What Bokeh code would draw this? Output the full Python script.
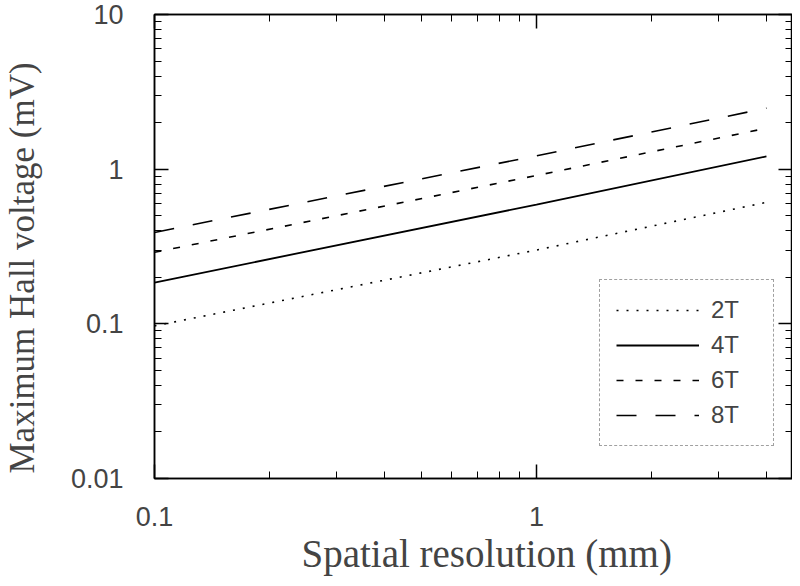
from bokeh.plotting import figure
from bokeh.models import LogAxis, FixedTicker, Legend, LegendItem, Title
from bokeh.embed import file_html
from bokeh.resources import INLINE

# Data (log-log straight lines)
x_res = [0.1, 1.0, 4.0]
v_2T = [0.097, 0.30, 0.61]
v_4T = [0.185, 0.59, 1.21]
v_6T = [0.29, 0.91, 1.84]
v_8T = [0.39, 1.22, 2.48]
series_labels = ["2T", "4T", "6T", "8T"]

x_major = [0.1, 1.0]
x_minor = [0.2, 0.3, 0.4, 0.5, 0.6, 0.7, 0.8, 0.9, 2.0, 3.0, 4.0]
y_major = [0.01, 0.1, 1.0, 10.0]
y_minor = [m * d for d in (0.01, 0.1, 1.0) for m in range(2, 10)]

p = figure(width=792, height=578, x_axis_type="log", y_axis_type="log",
           x_range=(0.1, 4.68), y_range=(0.01, 10),
           output_backend="svg", toolbar_location=None,
           min_border_left=154, min_border_right=0, min_border_top=14, min_border_bottom=100)
p.grid.visible = False
p.outline_line_color = "black"
p.outline_line_width = 1.5
p.background_fill_color = "white"
p.border_fill_color = "white"

styles = [("2 8", 1.6), (None, 1.8), ("7 12", 1.6), ("20 19", 1.6)]
series = [v_2T, v_4T, v_6T, v_8T]
renderers = []
for vals, (dash, w) in zip(series, styles):
    kw = dict(line_color="black", line_width=w)
    if dash:
        kw["line_dash"] = dash
    renderers.append(p.line(x_res, vals, **kw))

def style_axis(ax, labels=True):
    ax.axis_line_color = "black"
    ax.axis_line_width = 1.5
    ax.major_tick_in = 14
    ax.major_tick_out = 0
    ax.minor_tick_in = 7
    ax.minor_tick_out = 0
    ax.major_tick_line_color = "black"
    ax.minor_tick_line_color = "black"
    ax.major_tick_line_width = 1.5
    if not labels:
        ax.major_label_text_font_size = "0px"
        ax.major_label_text_color = None

xa = p.xaxis[0]
xa.ticker = FixedTicker(ticks=x_major, minor_ticks=x_minor)
style_axis(xa)
xa.major_label_overrides = {0.1: "0.1", 1.0: "1"}
xa.major_label_text_font = "Liberation Sans"
xa.major_label_text_font_size = "27px"
xa.major_label_standoff = 28

ya = p.yaxis[0]
ya.ticker = FixedTicker(ticks=y_major, minor_ticks=y_minor)
style_axis(ya)
ya.major_label_overrides = {0.01: "0.01", 0.1: "0.1", 1.0: "1", 10.0: "10"}
ya.major_label_text_font = "Liberation Sans"
ya.major_label_text_font_size = "27px"
ya.major_label_standoff = 31
# blank spacer label to push the side title outward
ya.axis_label = " "
ya.axis_label_text_font_size = "16px"
ya.axis_label_standoff = 4

top = LogAxis(ticker=FixedTicker(ticks=x_major, minor_ticks=x_minor))
style_axis(top, labels=False)
p.add_layout(top, "above")
right = LogAxis(ticker=FixedTicker(ticks=y_major, minor_ticks=y_minor))
style_axis(right, labels=False)
p.add_layout(right, "right")

# Axis titles as side titles so they can be offset like the original
xt = Title(text="Spatial resolution (mm)", align="left", offset=147,
           text_font="Liberation Serif", text_font_style="normal", text_font_size="39px",
           standoff=2)
p.add_layout(xt, "below")
yt = Title(text="Maximum Hall voltage (mV)", align="left", offset=5,
           text_font="Liberation Serif", text_font_style="normal", text_font_size="35px",
           standoff=0, vertical_align="top")
p.add_layout(yt, "left")

legend = Legend(items=[LegendItem(label=l, renderers=[r]) for l, r in zip(series_labels, renderers)],
                location=(445, 32))
legend.label_text_font = "Liberation Sans"
legend.label_text_font_size = "24px"
legend.glyph_width = 83
legend.glyph_height = 24
legend.label_height = 24
legend.label_width = 46
legend.label_standoff = 12
legend.spacing = 7
legend.padding = 16
legend.border_line_color = "#444444"
legend.border_line_dash = "8 4"
legend.border_line_width = 1
legend.background_fill_alpha = 1.0
p.add_layout(legend, "center")

open("out.html", "w").write(file_html(p, INLINE))
